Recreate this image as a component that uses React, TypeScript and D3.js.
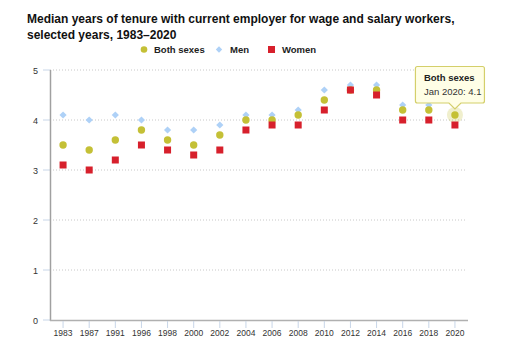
import React from "react";
import * as d3 from "d3";

const years = ["1983","1987","1991","1996","1998","2000","2002","2004","2006","2008","2010","2012","2014","2016","2018","2020"];
const bothSexes = [3.5,3.4,3.6,3.8,3.6,3.5,3.7,4.0,4.0,4.1,4.4,4.6,4.6,4.2,4.2,4.1];
const men = [4.1,4.0,4.1,4.0,3.8,3.8,3.9,4.1,4.1,4.2,4.6,4.7,4.7,4.3,4.3,4.3];
const women = [3.1,3.0,3.2,3.5,3.4,3.3,3.4,3.8,3.9,3.9,4.2,4.6,4.5,4.0,4.0,3.9];
const yTicks = [0,1,2,3,4,5];

const C_BOTH = "#c4c036";
const C_MEN = "#aed1f7";
const C_WOMEN = "#d7202c";
const FONT = "'Liberation Sans', Arial, sans-serif";

export default function App() {
  const W = 507, H = 350;
  const x = d3.scaleBand<string>().domain(years).range([50, 468]);
  const y = d3.scaleLinear().domain([0, 5]).range([320, 70]);
  const cx = (yr: string) => (x(yr) as number) + x.bandwidth() / 2;
  const diamond = (r: number) => `M0,${-r}L${r},0L0,${r}L${-r},0Z`;

  const hi = years.length - 1;
  const hx = cx(years[hi]);
  const hy = y(bothSexes[hi]);

  return (
    <svg width={W} height={H} style={{ position: "absolute", left: 0, top: 0, fontFamily: FONT }}>
      <rect width={W} height={H} fill="#fff" />
      <text x={27} y={23} fontSize={12} fontWeight="bold" fill="#111">Median years of tenure with current employer for wage and salary workers,</text>
      <text x={27} y={39} fontSize={12} fontWeight="bold" fill="#111">selected years, 1983–2020</text>

      {/* legend */}
      <g fontSize={9.5} fill="#222" fontWeight="bold">
        <circle cx={144} cy={49.5} r={3.3} fill={C_BOTH} />
        <text x={154} y={53}>Both sexes</text>
        <path d={diamond(3.2)} transform="translate(219,49.5)" fill={C_MEN} />
        <text x={230} y={53}>Men</text>
        <rect x={268} y={46} width={7} height={7} fill={C_WOMEN} />
        <text x={282} y={53}>Women</text>
      </g>

      {/* gridlines */}
      {yTicks.filter(t => t > 0).map(t => (
        <line key={t} x1={50} x2={467} y1={y(t)} y2={y(t)} stroke="#c8c8c8" strokeDasharray="1,2" />
      ))}
      {/* y ticks */}
      {yTicks.map(t => (
        <g key={t}>
          <line x1={43} x2={50} y1={y(t)} y2={y(t)} stroke="#c8d6e8" strokeWidth={1} />
          <text x={38} y={y(t) + 3.5} fontSize={9} fill="#333" textAnchor="end">{t}</text>
        </g>
      ))}
      {/* axes */}
      <line x1={50.5} x2={50.5} y1={70} y2={321} stroke="#a0a0a0" strokeWidth={1.5} />
      <line x1={50} x2={468} y1={320.5} y2={320.5} stroke="#b0b0b0" strokeWidth={1.5} />
      {years.map(yr => (
        <g key={yr}>
          <line x1={cx(yr)} x2={cx(yr)} y1={321} y2={328} stroke="#c8d6e8" />
          <text x={cx(yr)} y={336} fontSize={8.5} fill="#333" textAnchor="middle">{yr}</text>
        </g>
      ))}

      {/* series: men, both, women */}
      {years.map((yr, i) => (
        <path key={"m" + yr} d={diamond(3.6)} transform={`translate(${cx(yr)},${y(men[i])})`} fill={C_MEN} />
      ))}
      <circle cx={hx} cy={hy} r={8} fill={C_BOTH} fillOpacity={0.25} />
      {years.map((yr, i) => (
        <circle key={"b" + yr} cx={cx(yr)} cy={y(bothSexes[i])} r={3.7} fill={C_BOTH} />
      ))}
      {years.map((yr, i) => (
        <rect key={"w" + yr} x={cx(yr) - 3.5} y={y(women[i]) - 3.5} width={7} height={7} fill={C_WOMEN} />
      ))}

      {/* tooltip */}
      <g>
        <path
          d={`M${hx - 37.5},66.5 h65 a2,2 0 0 1 2,2 v32.5 a2,2 0 0 1 -2,2 H${hx + 6} L${hx},${hy - 6} L${hx - 6},103 H${hx - 37.5} a2,2 0 0 1 -2,-2 V68.5 a2,2 0 0 1 2,-2 z`}
          fill="#fffee6" stroke="#d4cf6a" strokeWidth={1.2}
        />
        <text x={hx - 31} y={81} fontSize={9.5} fontWeight="bold" fill="#222">Both sexes</text>
        <text x={hx - 31} y={95} fontSize={9.5} fill="#333">Jan 2020: 4.1</text>
      </g>
    </svg>
  );
}
